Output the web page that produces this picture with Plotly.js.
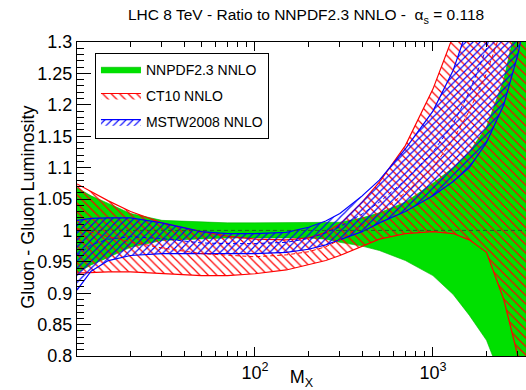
<!DOCTYPE html>
<html>
<head>
<meta charset="utf-8">
<script src="https://cdn.plot.ly/plotly-3.0.1.min.js"></script>
<style>html,body{margin:0;padding:0;background:#fff}#chart{width:526px;height:390px}</style>
</head>
<body>
<div id="chart"></div>
<script>
// Invariant mass grid (GeV)
const massX = [10,12,15,20,30,50,70,100,150,200,250,300,400,500,700,1000,1300,1600,2000,2500,3000,3500];

// NNPDF2.3 NNLO (reference) band
const nnpdfUp  = [1.068,1.055,1.043,1.027,1.016,1.013,1.012,1.012,1.012,1.012,1.012,1.013,1.020,1.028,1.045,1.075,1.100,1.125,1.165,1.240,1.340,1.460];
const nnpdfLo  = [0.932,0.945,0.957,0.973,0.984,0.987,0.988,0.988,0.988,0.988,0.986,0.981,0.975,0.968,0.952,0.928,0.898,0.865,0.825,0.755,0.650,0.500];
const nnpdfCen = [1,1,1,1,1,1,1,1,1,1,1,1,1,1,1,1,1,1,1,1,1,1];

// CT10 NNLO band
const ct10Up  = [1.074,1.062,1.047,1.030,1.012,0.998,0.991,0.986,0.985,0.988,0.997,1.010,1.045,1.077,1.135,1.225,1.310,1.420,1.600,1.850,2.200,2.600];
const ct10Cen = [1.003,0.997,0.990,0.982,0.972,0.963,0.960,0.958,0.961,0.966,0.974,0.985,1.008,1.028,1.060,1.100,1.145,1.190,1.250,1.330,1.420,1.520];
const ct10Lo  = [0.932,0.933,0.934,0.934,0.931,0.928,0.928,0.931,0.937,0.945,0.952,0.960,0.975,0.986,0.995,0.998,0.995,0.985,0.965,0.890,0.800,0.700];

// MSTW2008 NNLO band
const mstwUp  = [1.016,1.019,1.020,1.020,1.012,0.998,0.995,0.995,0.997,1.005,1.015,1.027,1.055,1.080,1.130,1.190,1.255,1.330,1.430,1.570,1.720,1.900];
const mstwCen = [0.960,0.977,0.986,0.990,0.987,0.980,0.979,0.979,0.981,0.987,0.996,1.006,1.026,1.045,1.080,1.125,1.170,1.220,1.290,1.390,1.500,1.630];
const mstwLo  = [0.905,0.935,0.952,0.960,0.963,0.963,0.963,0.963,0.965,0.970,0.977,0.985,0.998,1.012,1.030,1.055,1.078,1.100,1.140,1.200,1.280,1.370];

const seriesNames = ['NNPDF2.3 NNLO','CT10 NNLO','MSTW2008 NNLO'];
const xTickVals = [100,1000];
const xTickText = ['10<sup>2</sup>','10<sup>3</sup>'];
const xMinorVals = [20,30,40,50,60,70,80,90,200,300,400,500,600,700,800,900,2000,3000];
const yTickVals = [0.8,0.85,0.9,0.95,1,1.05,1.1,1.15,1.2,1.25,1.3];
const yTickText = ['0.8','0.85','0.9','0.95','1','1.05','1.1','1.15','1.2','1.25','1.3'];

const GREEN = '#00e000', RED = '#ff0000', BLUE = '#0000ff';

const traces = [
  {x: massX, y: nnpdfLo, mode: 'lines', line: {color: '#00b400', width: 0.6}, showlegend: false, hoverinfo: 'skip'},
  {x: massX, y: nnpdfUp, mode: 'lines', fill: 'tonexty', fillcolor: GREEN,
   line: {color: '#00b400', width: 0.6}, name: seriesNames[0], legendgroup: 'a'},
  {x: massX, y: ct10Lo, mode: 'lines', line: {color: RED, width: 1.2}, showlegend: false, hoverinfo: 'skip'},
  {x: massX, y: ct10Up, mode: 'lines', fill: 'tonexty', fillcolor: 'rgba(0,0,0,0)',
   fillpattern: {shape: '\\', fgcolor: RED, bgcolor: 'rgba(0,0,0,0)', size: 6, solidity: 0.2},
   line: {color: RED, width: 1.2}, name: seriesNames[1], legendgroup: 'b'},
  {x: massX, y: mstwLo, mode: 'lines', line: {color: BLUE, width: 1.2}, showlegend: false, hoverinfo: 'skip'},
  {x: massX, y: mstwUp, mode: 'lines', fill: 'tonexty', fillcolor: 'rgba(0,0,0,0)',
   fillpattern: {shape: '/', fgcolor: BLUE, bgcolor: 'rgba(0,0,0,0)', size: 5, solidity: 0.22},
   line: {color: BLUE, width: 1.2}, name: seriesNames[2], legendgroup: 'c'},
  {x: massX, y: nnpdfCen, mode: 'lines', line: {color: '#206020', width: 1, dash: '4px,3px'}, showlegend: false},
  {x: massX, y: ct10Cen, mode: 'lines', line: {color: RED, width: 1, dash: '4px,3px'}, showlegend: false},
  {x: massX, y: mstwCen, mode: 'lines', line: {color: BLUE, width: 1, dash: '4px,3px'}, showlegend: false}
];

const layout = {
  width: 526, height: 390,
  margin: {l: 77, r: 0, t: 42, b: 34},
  paper_bgcolor: '#fff', plot_bgcolor: '#fff',
  font: {family: '"Liberation Sans", Arial, sans-serif', color: '#000', size: 18},
  title: {text: 'LHC 8 TeV - Ratio to NNPDF2.3 NNLO -  α<sub>s</sub> = 0.118',
          font: {size: 15.5}, x: 0.582, xanchor: 'center', y: 0.962, yanchor: 'middle'},
  xaxis: {
    type: 'log', range: [1, 3.523], showgrid: false, zeroline: false,
    showline: true, linecolor: '#000', linewidth: 1.2, mirror: 'ticks',
    ticks: 'inside', ticklen: 9, tickcolor: '#000', tickwidth: 1,
    tickvals: xTickVals, ticktext: xTickText, tickfont: {size: 18},
    minor: {tickvals: xMinorVals, ticks: 'inside', ticklen: 5, tickcolor: '#000', showgrid: false},
    title: {text: 'M<sub>X</sub>', font: {size: 18}, standoff: 0}
  },
  yaxis: {
    range: [0.8, 1.3], showgrid: false, zeroline: false,
    showline: true, linecolor: '#000', linewidth: 1.2,
    ticks: 'inside', ticklen: 14, tickcolor: '#000', tickwidth: 1,
    tickvals: yTickVals, ticktext: yTickText, tickfont: {size: 18},
    minor: {dtick: 0.01, ticks: 'inside', ticklen: 7, tickcolor: '#000', showgrid: false}
  },
  annotations: [{
    text: 'Gluon - Gluon Luminosity', textangle: -90, showarrow: false,
    xref: 'paper', yref: 'paper', x: -0.108, y: 0.474, xanchor: 'center', yanchor: 'middle',
    font: {size: 18}
  }],
  legend: {
    x: 0.04, y: 0.966, xanchor: 'left', yanchor: 'top',
    bgcolor: '#fff', bordercolor: '#000', borderwidth: 1,
    font: {size: 14}, itemwidth: 40, tracegroupgap: 5,
    entrywidth: 205, entrywidthmode: 'pixels'
  },
  showlegend: true
};

Plotly.newPlot('chart', traces, layout, {staticPlot: true, displayModeBar: false});
</script>
</body>
</html>
